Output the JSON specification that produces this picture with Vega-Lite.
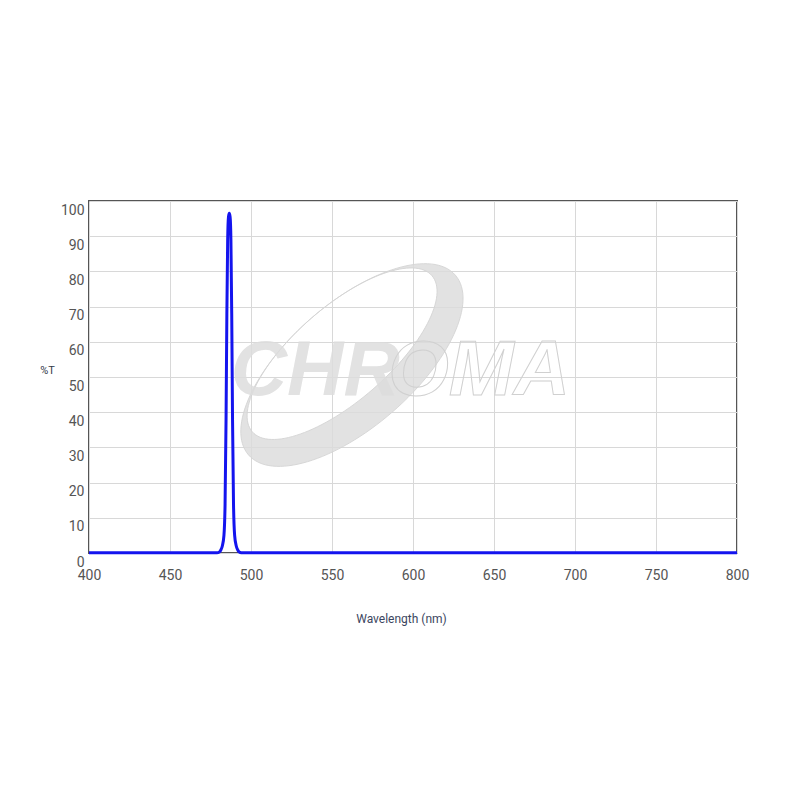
{
  "$schema": "https://vega.github.io/schema/vega-lite/v6.json",
  "autosize": {"type": "none"},
  "padding": {"left": 89, "top": 201, "right": 63, "bottom": 247},
  "width": 648,
  "height": 352,
  "background": "white",
  "config": {
    "font": "Roboto",
    "view": {"stroke": "#555555", "strokeWidth": 2},
    "axis": {"domain": false, "ticks": false, "grid": true, "gridColor": "#d8d8d8", "gridWidth": 1, "labelFont": "Roboto", "labelFontSize": 14, "labelColor": "#555555", "titleFont": "Roboto", "titleFontWeight": "normal"}
  },
  "datasets": {
    "spectrum": [
      {"wl": 400, "t": 0.1},
      {"wl": 450, "t": 0.1},
      {"wl": 479, "t": 0.1},
      {"wl": 480.5, "t": 0.3},
      {"wl": 481.3, "t": 0.8},
      {"wl": 482.3, "t": 2},
      {"wl": 483.3, "t": 5},
      {"wl": 484.0, "t": 14},
      {"wl": 484.6, "t": 38},
      {"wl": 485.1, "t": 68},
      {"wl": 485.6, "t": 89},
      {"wl": 486.1, "t": 95.5},
      {"wl": 486.6, "t": 96.5},
      {"wl": 487.1, "t": 95.5},
      {"wl": 487.6, "t": 89},
      {"wl": 488.1, "t": 68},
      {"wl": 488.6, "t": 38},
      {"wl": 489.2, "t": 14},
      {"wl": 489.9, "t": 5},
      {"wl": 490.9, "t": 2},
      {"wl": 491.9, "t": 0.8},
      {"wl": 492.7, "t": 0.3},
      {"wl": 494, "t": 0.1},
      {"wl": 600, "t": 0.1},
      {"wl": 800, "t": 0.1}
    ],
    "logo": [{"part": "swoosh"}],
    "chr": [{"label": "CHR"}],
    "oma": [{"label": "OMA"}]
  },
  "layer": [
    {
      "data": {"name": "logo"},
      "mark": {"type": "point", "filled": true, "fill": "#dcdcdc", "fillOpacity": 0.82, "stroke": "#d4d4d4", "strokeWidth": 1, "strokeOpacity": 0.9, "size": 40000,
        "shape": "M 1.0339 -0.8989 A 1.37 0.62 -41 1 1 -1.0339 0.8989 A 1.37 0.62 -41 1 1 1.0339 -0.8989 Z M 0.7997 -0.8940 A 1.19 0.47 -41 1 0 -0.9965 0.6676 A 1.19 0.47 -41 1 0 0.7997 -0.8940 Z"},
      "encoding": {
        "x": {"datum": 562.3, "type": "quantitative", "scale": {"domain": [400, 800], "nice": false, "zero": false},
          "axis": {"values": [400, 450, 500, 550, 600, 650, 700, 750, 800], "grid": true, "labelFlush": false, "labelPadding": 15, "labelBaseline": "top",
            "title": "Wavelength (nm)", "titleFontSize": 12, "titleColor": "#3b4660", "titleX": 312, "titleY": 65, "titleAlign": "center", "titleBaseline": "middle"}},
        "y": {"datum": 53.4, "type": "quantitative", "scale": {"domain": [0, 100], "nice": false, "zero": false},
          "axis": {"values": [0, 10, 20, 30, 40, 50, 60, 70, 80, 90, 100], "grid": true, "labelBaseline": "top", "labelOffset": 2, "labelPadding": 5,
            "title": "%T", "titleAngle": 0, "titleFontSize": 11, "titleColor": "#333a4a", "titleX": -42, "titleY": 169, "titleAlign": "center", "titleBaseline": "middle"}}
      }
    },
    {
      "data": {"name": "chr"},
      "mark": {"type": "text", "font": "Liberation Sans", "fontSize": 78, "fontWeight": "bold", "fontStyle": "italic", "fill": "#dddddd", "opacity": 0.85, "align": "left", "baseline": "alphabetic"},
      "encoding": {
        "x": {"datum": 487.5, "type": "quantitative", "scale": {"domain": [400, 800], "nice": false, "zero": false},
          "axis": {"values": [400, 450, 500, 550, 600, 650, 700, 750, 800], "grid": true, "labelFlush": false, "labelPadding": 15, "labelBaseline": "top",
            "title": "Wavelength (nm)", "titleFontSize": 12, "titleColor": "#3b4660", "titleX": 312, "titleY": 65, "titleAlign": "center", "titleBaseline": "middle"}},
        "y": {"datum": 44.9, "type": "quantitative", "scale": {"domain": [0, 100], "nice": false, "zero": false},
          "axis": {"values": [0, 10, 20, 30, 40, 50, 60, 70, 80, 90, 100], "grid": true, "labelBaseline": "top", "labelOffset": 2, "labelPadding": 5,
            "title": "%T", "titleAngle": 0, "titleFontSize": 11, "titleColor": "#333a4a", "titleX": -42, "titleY": 169, "titleAlign": "center", "titleBaseline": "middle"}},
        "text": {"field": "label"}
      }
    },
    {
      "data": {"name": "oma"},
      "mark": {"type": "text", "font": "Liberation Sans", "fontSize": 78, "fontWeight": "bold", "fontStyle": "italic", "fill": "transparent", "stroke": "#d0d0d0", "strokeWidth": 1, "align": "right", "baseline": "alphabetic"},
      "encoding": {
        "x": {"datum": 697, "type": "quantitative", "scale": {"domain": [400, 800], "nice": false, "zero": false},
          "axis": {"values": [400, 450, 500, 550, 600, 650, 700, 750, 800], "grid": true, "labelFlush": false, "labelPadding": 15, "labelBaseline": "top",
            "title": "Wavelength (nm)", "titleFontSize": 12, "titleColor": "#3b4660", "titleX": 312, "titleY": 65, "titleAlign": "center", "titleBaseline": "middle"}},
        "y": {"datum": 44.9, "type": "quantitative", "scale": {"domain": [0, 100], "nice": false, "zero": false},
          "axis": {"values": [0, 10, 20, 30, 40, 50, 60, 70, 80, 90, 100], "grid": true, "labelBaseline": "top", "labelOffset": 2, "labelPadding": 5,
            "title": "%T", "titleAngle": 0, "titleFontSize": 11, "titleColor": "#333a4a", "titleX": -42, "titleY": 169, "titleAlign": "center", "titleBaseline": "middle"}},
        "text": {"field": "label"}
      }
    },
    {
      "data": {"name": "spectrum"},
      "mark": {"type": "line", "color": "#1414ee", "strokeWidth": 3, "interpolate": "monotone"},
      "encoding": {
        "x": {"field": "wl", "type": "quantitative", "scale": {"domain": [400, 800], "nice": false, "zero": false},
          "axis": {"values": [400, 450, 500, 550, 600, 650, 700, 750, 800], "grid": true, "labelFlush": false, "labelPadding": 15, "labelBaseline": "top",
            "title": "Wavelength (nm)", "titleFontSize": 12, "titleColor": "#3b4660", "titleX": 312, "titleY": 65, "titleAlign": "center", "titleBaseline": "middle"}},
        "y": {"field": "t", "type": "quantitative", "scale": {"domain": [0, 100], "nice": false, "zero": false},
          "axis": {"values": [0, 10, 20, 30, 40, 50, 60, 70, 80, 90, 100], "grid": true, "labelBaseline": "top", "labelOffset": 2, "labelPadding": 5,
            "title": "%T", "titleAngle": 0, "titleFontSize": 11, "titleColor": "#333a4a", "titleX": -42, "titleY": 169, "titleAlign": "center", "titleBaseline": "middle"}}
      }
    }
  ]
}
